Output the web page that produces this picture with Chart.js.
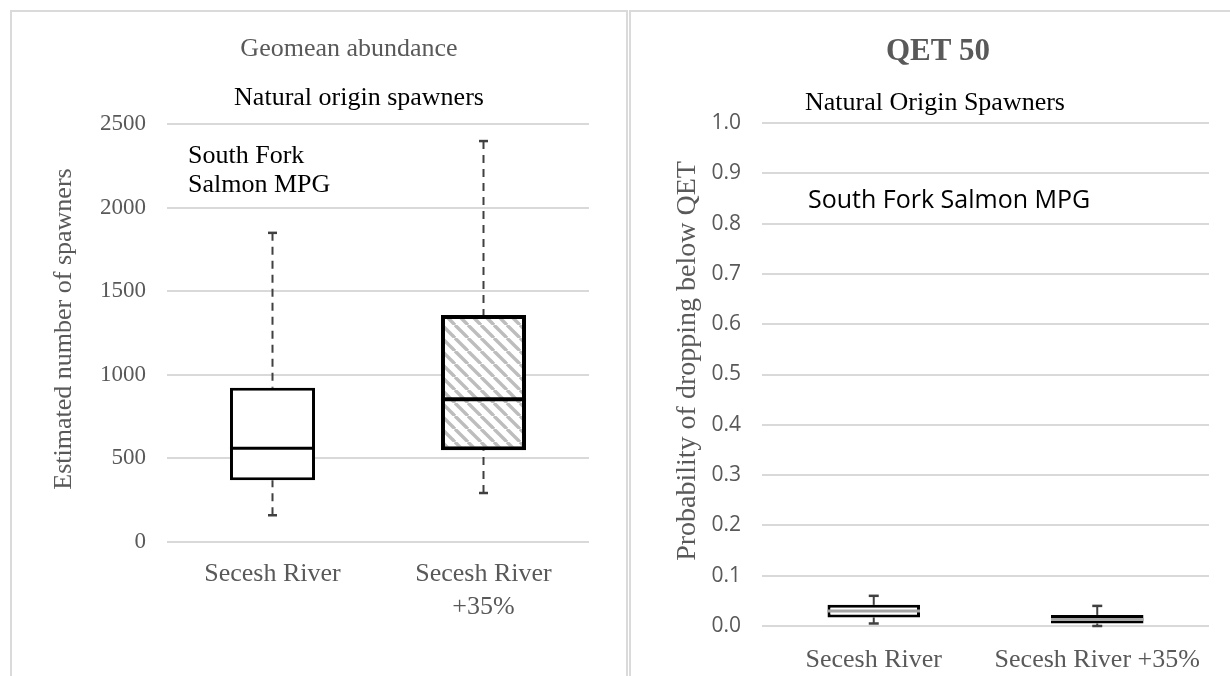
<!DOCTYPE html>
<html>
<head>
<meta charset="utf-8">
<script src="https://cdn.jsdelivr.net/npm/chart.js@4.4.1/dist/chart.umd.min.js"></script>
<style>
  html, body { margin:0; padding:0; background:#fff; width:1230px; height:676px; overflow:hidden; position:relative; }
  .panel { position:absolute; box-sizing:border-box; border-color:#dadada; border-style:solid; }
  #panelL { left:10px; top:10px; width:618px; height:700px; border-width:2px 2px 0 2px; }
  #panelR { left:629px; top:10px; width:640px; height:700px; border-width:2px 0 0 2px; }
  canvas { position:absolute; top:0; }
  #cvL { left:0; }
  #cvR { left:628px; }
</style>
</head>
<body>
<div class="panel" id="panelL"></div>
<div class="panel" id="panelR"></div>
<canvas id="cvL" width="628" height="676"></canvas>
<canvas id="cvR" width="602" height="676"></canvas>
<script>
// ====== Data ======
const abunCategories = ['Secesh River', ['Secesh River', '+35%']];
const abunMin    = [160, 293];
const abunQ1     = [369, 549];
const abunMedian = [561, 854];
const abunQ3     = [922, 1357];
const abunMax    = [1849, 2398];
const abunTicks  = [0, 500, 1000, 1500, 2000, 2500];

const qetCategories = ['Secesh River', 'Secesh River +35%'];
const qetMin    = [0.005, 0.0];
const qetQ1     = [0.017, 0.005];
const qetMedian = [0.03, 0.013];
const qetQ3     = [0.042, 0.022];
const qetMax    = [0.06, 0.04];

// ====== Utils ======
const SERIF = "'Liberation Serif', 'Times New Roman', serif";
const SANS = "'Open Sans', 'Noto Sans', sans-serif";
const GREY = '#595959';

function hatch(){
  const s = 13, c = document.createElement('canvas');
  c.width = s; c.height = s;
  const g = c.getContext('2d');
  g.fillStyle = '#fff'; g.fillRect(0,0,s,s);
  g.strokeStyle = '#bdbdbd'; g.lineWidth = 3.4;
  [-1,0,1].forEach(k => { g.beginPath(); g.moveTo(k*s, 0); g.lineTo(k*s+s, s); g.stroke(); });
  return g.createPattern(c, 'repeat');
}

// whiskers + caps behind the boxes, medians on top
const boxWhiskers = {
  id: 'boxWhiskers',
  beforeDatasetsDraw(chart, args, o){
    const ctx = chart.ctx, y = chart.scales.y;
    ctx.save();
    chart.getDatasetMeta(0).data.forEach((bar, i) => {
      const x = bar.x;
      const pMax = y.getPixelForValue(o.max[i]), pQ3 = y.getPixelForValue(o.q3[i]);
      const pQ1 = y.getPixelForValue(o.q1[i]), pMin = y.getPixelForValue(o.min[i]);
      ctx.strokeStyle = o.color; ctx.lineWidth = o.width;
      ctx.setLineDash(o.dash);
      ctx.beginPath(); ctx.moveTo(x, pMax); ctx.lineTo(x, pQ3); ctx.stroke();
      ctx.beginPath(); ctx.moveTo(x, pMin); ctx.lineTo(x, pQ1); ctx.stroke();
      ctx.setLineDash([]);
      ctx.lineWidth = o.capWidth;
      ctx.beginPath(); ctx.moveTo(x - o.cap/2, pMax); ctx.lineTo(x + o.cap/2, pMax); ctx.stroke();
      ctx.beginPath(); ctx.moveTo(x - o.cap/2, pMin); ctx.lineTo(x + o.cap/2, pMin); ctx.stroke();
    });
    ctx.restore();
  },
  afterDatasetsDraw(chart, args, o){
    const ctx = chart.ctx, y = chart.scales.y;
    ctx.save();
    chart.getDatasetMeta(0).data.forEach((bar, i) => {
      const p = y.getPixelForValue(o.median[i]);
      ctx.strokeStyle = o.medianColor; ctx.lineWidth = o.medianWidth[i];
      ctx.beginPath(); ctx.moveTo(bar.x - bar.width/2, p); ctx.lineTo(bar.x + bar.width/2, p); ctx.stroke();
    });
    ctx.restore();
  }
};

// free text: titles, annotations, rotated axis titles
const panelText = {
  id: 'panelText',
  afterDraw(chart, args, o){
    const ctx = chart.ctx;
    o.items.forEach(t => {
      ctx.save();
      ctx.font = t.font; ctx.fillStyle = t.color;
      ctx.textAlign = t.align || 'center'; ctx.textBaseline = t.baseline || 'middle';
      ctx.translate(t.x, t.y);
      if(t.rotate) ctx.rotate(t.rotate);
      ctx.fillText(t.text, 0, 0);
      ctx.restore();
    });
  }
};

function boxChart(canvas, cfg){
  return new Chart(canvas, {
    type: 'bar',
    data: {
      labels: cfg.labels,
      datasets: [{
        data: cfg.q1.map((v,i) => [v, cfg.q3[i]]),
        backgroundColor: cfg.fills,
        borderColor: '#000',
        borderWidth: cfg.borders,
        borderSkipped: false,
        categoryPercentage: 1,
        barPercentage: cfg.barPct
      }]
    },
    options: {
      responsive: false, animation: false,
      layout: { padding: cfg.padding },
      plugins: {
        legend: { display:false }, tooltip: { enabled:false },
        boxWhiskers: {
          q1: cfg.q1, q3: cfg.q3, min: cfg.min, max: cfg.max, median: cfg.median,
          color: '#404040', width: 2, dash: cfg.dash, cap: cfg.cap, capWidth: 2.5,
          medianColor: cfg.medianColor, medianWidth: cfg.borders
        },
        panelText: { items: cfg.texts }
      },
      scales: {
        x: {
          grid: { display:false }, border: { display:false },
          ticks: { color: GREY, font: { family: SERIF, size: 26, lineHeight: 1.25 }, padding: cfg.xPad, maxRotation: 0, autoSkip: false },
          afterFit: s => { s.height = cfg.xHeight; }
        },
        y: {
          min: cfg.yMin, max: cfg.yMax,
          grid: { color: '#d9d9d9', lineWidth: 2, drawTicks: false },
          border: { display:false },
          ticks: { stepSize: cfg.step, color: GREY, font: cfg.tickFont, padding: 21, callback: cfg.tickFmt },
          afterFit: s => { s.width = cfg.yWidth; }
        }
      }
    },
    plugins: [boxWhiskers, panelText]
  });
}

// ====== Left: geomean abundance ======
const pat = hatch();
boxChart(document.getElementById('cvL'), {
  labels: abunCategories, q1: abunQ1, q3: abunQ3, min: abunMin, max: abunMax, median: abunMedian,
  fills: ['#fff', pat], borders: [3, 4], barPct: 0.403, dash: [8, 6], cap: 9, medianColor: '#000',
  padding: { top: 124, right: 39, left: 0, bottom: 0 },
  xHeight: 134, xPad: 8, yWidth: 167,
  yMin: abunTicks[0], yMax: abunTicks[abunTicks.length-1], step: 500,
  tickFont: { family: SERIF, size: 23 }, tickFmt: v => v,
  texts: [
    { text: 'Geomean abundance', x: 349, y: 49, font: `26px ${SERIF}`, color: GREY },
    { text: 'Natural origin spawners', x: 359, y: 98, font: `26px ${SERIF}`, color: '#000' },
    { text: 'South Fork', x: 188, y: 163, font: `26px ${SERIF}`, color: '#000', align: 'left', baseline: 'alphabetic' },
    { text: 'Salmon MPG', x: 188, y: 192, font: `26px ${SERIF}`, color: '#000', align: 'left', baseline: 'alphabetic' },
    { text: 'Estimated number of spawners', x: 64, y: 329, font: `26px ${SERIF}`, color: GREY, rotate: -Math.PI/2 }
  ]
});

// ====== Right: QET 50 ======
boxChart(document.getElementById('cvR'), {
  labels: qetCategories, q1: qetQ1, q3: qetQ3, min: qetMin, max: qetMax, median: qetMedian,
  fills: ['#fff', pat], borders: [3, 3], barPct: 0.414, dash: [], cap: 10, medianColor: '#a6a6a6',
  padding: { top: 123, right: 21, left: 0, bottom: 0 },
  xHeight: 50, xPad: 10, yWidth: 134,
  yMin: 0, yMax: 1, step: 0.1,
  tickFont: { family: SANS, size: 21 }, tickFmt: v => Number(v).toFixed(1),
  texts: [
    { text: 'QET 50', x: 310, y: 52, font: `bold 31px ${SERIF}`, color: GREY },
    { text: 'Natural Origin Spawners', x: 307, y: 103, font: `26px ${SERIF}`, color: '#000' },
    { text: 'South Fork Salmon MPG', x: 180, y: 201, font: `25px ${SANS}`, color: '#000', align: 'left' },
    { text: 'Probability of dropping below QET', x: 60, y: 361, font: `28px ${SERIF}`, color: GREY, rotate: -Math.PI/2 }
  ]
});
</script>
</body>
</html>
